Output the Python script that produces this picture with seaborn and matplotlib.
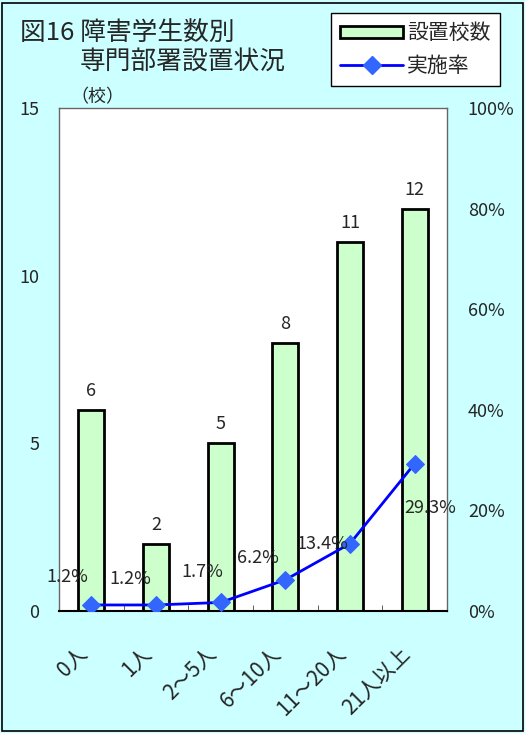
import numpy as np
import matplotlib
matplotlib.use('Agg')
import matplotlib.pyplot as plt
import matplotlib.transforms as mtransforms
from matplotlib.patches import Patch, Rectangle
from matplotlib.lines import Line2D
import seaborn as sns

# データ
categories = ['0人', '1人', '2～5人', '6～10人', '11～20人', '21人以上']
counts = [6, 2, 5, 8, 11, 12]
rates = [1.2, 1.2, 1.7, 6.2, 13.4, 29.3]
rate_labels = ['1.2%', '1.2%', '1.7%', '6.2%', '13.4%', '29.3%']

sns.set_style('white')
plt.rcParams['font.family'] = ['Noto Sans CJK JP', 'DejaVu Sans']

bg = '#CCFFFF'
fig = plt.figure(figsize=(5.25, 7.33), dpi=100, facecolor=bg)
fig.patches.append(Rectangle((0.004, 0.003), 0.992, 0.993, transform=fig.transFigure,
                             fill=False, edgecolor='black', linewidth=1.2))

ax = fig.add_axes([59/525, 1-611/733, 388/525, 503/733])
ax.set_facecolor('white')

sns.barplot(x=categories, y=counts, color='#CCFFCC', edgecolor='black',
            linewidth=2, width=0.4, ax=ax, saturation=1)
ax.set_xlim(-0.5, 5.5)
ax.set_ylim(0, 15)
ax.set_yticks([0, 5, 10, 15])
ax.set_xlabel('')
ax.set_ylabel('')
ax.tick_params(axis='y', length=0, pad=14, labelsize=13)
ax.set_xticks(np.arange(6))
ax.set_xticklabels(categories, rotation=45, ha='right', rotation_mode='anchor', fontsize=15)
ax.tick_params(axis='x', which='major', length=0, pad=23)
shift = mtransforms.ScaledTranslation(-15/100, 0, fig.dpi_scale_trans)
for lab in ax.get_xticklabels():
    lab.set_transform(lab.get_transform() + shift)
ax.set_xticks(np.arange(0.5, 5, 1), minor=True)
ax.tick_params(axis='x', which='minor', length=4, direction='in', color='#444444', bottom=True)

for s in ['left', 'top', 'right']:
    ax.spines[s].set_color('#666666')
    ax.spines[s].set_linewidth(1)
ax.spines['bottom'].set_color('black')
ax.spines['bottom'].set_linewidth(1.5)

for i, v in enumerate(counts):
    ax.annotate(str(v), (i, v), xytext=(0, 10), textcoords='offset pixels',
                ha='center', va='bottom', fontsize=13)

ax2 = ax.twinx()
sns.lineplot(x=np.arange(6), y=rates, ax=ax2, color='#0000FF', linewidth=2,
             marker='D', markersize=9, markerfacecolor='#3366FF',
             markeredgecolor='#3366FF', sort=False)
ax2.set_ylim(0, 100)
ax2.set_yticks([0, 20, 40, 60, 80, 100])
ax2.set_yticklabels([f'{t}%' for t in [0, 20, 40, 60, 80, 100]])
ax2.tick_params(axis='y', length=0, pad=15, labelsize=13)
for s in ax2.spines.values():
    s.set_visible(False)

offsets = [(-24, 28), (-26, 26), (-18, 30), (-27, 22), (-28, 0), (16, -44)]
for i, (v, lab) in enumerate(zip(rates, rate_labels)):
    ax2.annotate(lab, (i, v), xytext=offsets[i], textcoords='offset pixels',
                 ha='center', va='center', fontsize=13)

# タイトル
fig.text(20/525, 1-33/733, '図16 障害学生数別', fontsize=18.5, ha='left', va='center')
fig.text(80/525, 1-62/733, '専門部署設置状況', fontsize=18.5, ha='left', va='center')
fig.text(70/525, 1-97/733, '（校）', fontsize=13, ha='left', va='center')

handles = [Patch(facecolor='#CCFFCC', edgecolor='black', linewidth=2),
           Line2D([0], [0], color='#0000FF', linewidth=2, marker='D', markersize=9,
                  markerfacecolor='#3366FF', markeredgecolor='#3366FF')]
leg = fig.legend(handles, ['設置校数', '実施率'], loc='upper right',
                 bbox_to_anchor=(500/525, 1-13/733), fontsize=15, frameon=True,
                 fancybox=False, edgecolor='black', framealpha=1,
                 handlelength=3.0, handleheight=0.55, borderpad=0.45,
                 labelspacing=0.5, handletextpad=0.2, borderaxespad=0)
leg.get_frame().set_linewidth(1)

fig.savefig('out.png', dpi=100, facecolor=bg)
